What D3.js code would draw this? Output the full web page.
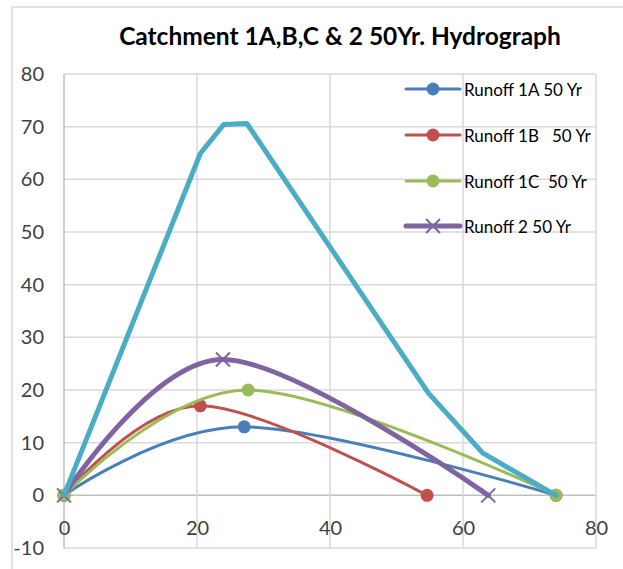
<!DOCTYPE html>
<html>
<head>
<meta charset="utf-8">
<script src="https://cdn.jsdelivr.net/npm/d3@7"></script>
<style>
  html, body { margin: 0; padding: 0; background: #fff; }
  svg { display: block; }
  text { font-family: Lato, "Open Sans", sans-serif; }
</style>
</head>
<body>
<svg id="chart" width="623" height="569"></svg>
<script>
// ---- Data ----
const titleText = "Catchment 1A,B,C & 2 50Yr. Hydrograph";
const xTicks = [0, 20, 40, 60, 80];
const yTicks = [-10, 0, 10, 20, 30, 40, 50, 60, 70, 80];

const seriesNames = ["Runoff 1A 50 Yr", "Runoff 1B   50 Yr", "Runoff 1C  50 Yr", "Runoff 2 50 Yr"];
const runoff1A_x = [0, 27.1, 74];
const runoff1A_y = [0, 13.0, 0];
const runoff1B_x = [0, 20.5, 54.6];
const runoff1B_y = [0, 17.0, 0];
const runoff1C_x = [0, 27.7, 74];
const runoff1C_y = [0, 20.0, 0];
const runoff2_x = [0, 23.9, 63.8];
const runoff2_y = [0, 25.8, 0];
// unlabelled total hydrograph (no legend entry)
const total_x = [0, 20.5, 24.0, 27.5, 54.8, 63.0, 74];
const total_y = [0, 64.9, 70.4, 70.6, 19.4, 8.0, 0];

// ---- Layout ----
const svg = d3.select("#chart");
const x = d3.scaleLinear().domain([0, 80]).range([64, 596]);
const y = d3.scaleLinear().domain([-10, 80]).range([548, 74]);

// chart area border
svg.append("rect").attr("x", 12).attr("y", 7).attr("width", 700).attr("height", 700)
  .attr("fill", "#fff").attr("stroke", "#d9d9d9").attr("stroke-width", 1.5);

// gridlines
const grid = svg.append("g");
grid.selectAll("line.h").data(yTicks).join("line")
  .attr("x1", x(0)).attr("x2", x(80))
  .attr("y1", d => y(d)).attr("y2", d => y(d))
  .attr("stroke", d => d === 0 ? "#bfbfbf" : "#d9d9d9").attr("stroke-width", 1.5);
grid.selectAll("line.v").data(xTicks).join("line")
  .attr("y1", y(-10)).attr("y2", y(80))
  .attr("x1", d => x(d)).attr("x2", d => x(d))
  .attr("stroke", d => d === 0 ? "#bfbfbf" : "#d9d9d9").attr("stroke-width", 1.5);

// axes via d3 axis generators (labels only)
const fmt = d => String(d);
const yAxis = d3.axisLeft(y).tickValues(yTicks).tickFormat(fmt).tickSize(0).tickPadding(20);
const gy = svg.append("g").attr("transform", `translate(${x(0)},0)`).call(yAxis);
const xAxis = d3.axisBottom(x).tickValues(xTicks).tickFormat(fmt).tickSize(0).tickPadding(25);
const gx = svg.append("g").attr("transform", `translate(0,${y(0)})`).call(xAxis);
[gy, gx].forEach(g => {
  g.select(".domain").remove();
  g.selectAll("text").attr("font-size", 20).attr("fill", "#404040")
    .attr("font-family", "Lato, 'Open Sans', sans-serif");
});

// title
svg.append("text").attr("x", 340).attr("y", 45).attr("text-anchor", "middle")
  .attr("font-size", 24.5).attr("font-weight", "bold").attr("fill", "#000")
  .text(titleText);

// ---- Series ----
const series = [
  { name: seriesNames[0], xs: runoff1A_x, ys: runoff1A_y, color: "#4a7ebb", width: 3, marker: "circle", smooth: true },
  { name: seriesNames[1], xs: runoff1B_x, ys: runoff1B_y, color: "#c0504d", width: 3, marker: "circle", smooth: true },
  { name: seriesNames[2], xs: runoff1C_x, ys: runoff1C_y, color: "#9bbb59", width: 3, marker: "circle", smooth: true },
  { name: seriesNames[3], xs: runoff2_x, ys: runoff2_y, color: "#8064a2", width: 5, marker: "x", smooth: true },
  { name: null, xs: total_x, ys: total_y, color: "#4bacc6", width: 5, marker: null, smooth: false }
];

const lineSmooth = d3.line().x(d => x(d[0])).y(d => y(d[1])).curve(d3.curveCardinal.tension(0));
const lineStraight = d3.line().x(d => x(d[0])).y(d => y(d[1]));

function drawMarker(g, type, cx, cy, color) {
  if (type === "circle") {
    g.append("circle").attr("cx", cx).attr("cy", cy).attr("r", 6.5).attr("fill", color);
  } else if (type === "x") {
    const s = 7;
    g.append("path").attr("d", `M${cx - s},${cy - s}L${cx + s},${cy + s}M${cx - s},${cy + s}L${cx + s},${cy - s}`)
      .attr("stroke", color).attr("stroke-width", 2).attr("fill", "none");
  }
}

const plot = svg.append("g");
series.forEach(s => {
  const pts = s.xs.map((v, i) => [v, s.ys[i]]);
  const g = plot.append("g");
  g.append("path").attr("d", (s.smooth ? lineSmooth : lineStraight)(pts))
    .attr("fill", "none").attr("stroke", s.color).attr("stroke-width", s.width)
    .attr("stroke-linejoin", "round").attr("stroke-linecap", "round");
  if (s.marker) pts.forEach(p => drawMarker(g, s.marker, x(p[0]), y(p[1]), s.color));
});

// ---- Legend ----
const legendY = [89, 135, 181, 226];
const legend = svg.append("g");
series.filter(s => s.name).forEach((s, i) => {
  const ly = legendY[i];
  legend.append("line").attr("x1", 406).attr("x2", 460).attr("y1", ly).attr("y2", ly)
    .attr("stroke", s.color).attr("stroke-width", s.width).attr("stroke-linecap", "round");
  drawMarker(legend, s.marker, 433, ly, s.color);
  legend.append("text").attr("x", 464).attr("y", ly + 6.5).attr("font-size", 17)
    .attr("fill", "#000").style("white-space", "pre").text(s.name);
});
</script>
</body>
</html>
